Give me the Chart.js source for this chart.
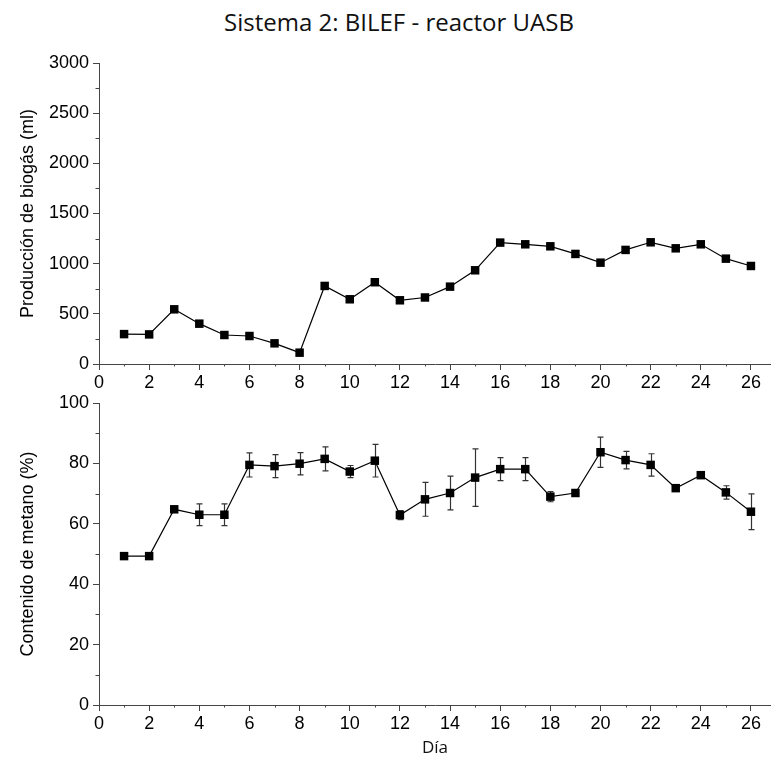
<!DOCTYPE html>
<html>
<head>
<meta charset="utf-8">
<script src="https://cdn.jsdelivr.net/npm/chart.js@4.4.1/dist/chart.umd.min.js"></script>
<style>
  html, body { margin: 0; padding: 0; background: #fff; }
  #wrap { position: relative; width: 771px; height: 771px; overflow: hidden; background: #fff; }
  #title { position: absolute; top: 7px; left: 0; width: 798px; text-align: center;
           font-family: 'Open Sans', sans-serif; font-size: 24px; line-height: 30px; color: #111; }
  canvas { position: absolute; left: 0; }
  #c1 { top: 0; }
  #c2 { top: 385px; }
</style>
</head>
<body>
<div id="wrap">
  <div id="title">Sistema 2: BILEF - reactor UASB</div>
  <canvas id="c1" width="777" height="395"></canvas>
  <canvas id="c2" width="777" height="386"></canvas>
</div>
<script>
// Day of operation
const days = [1, 2, 3, 4, 5, 6, 7, 8, 9, 10, 11, 12, 13, 14, 15, 16, 17, 18, 19, 20, 21, 22, 23, 24, 25, 26];
// Daily biogas production (ml)
const biogas = [298, 295, 545, 402, 289, 279, 206, 113, 778, 645, 815, 635, 663, 771, 934,
                1210, 1193, 1173, 1097, 1010, 1137, 1213, 1153, 1193, 1050, 977];
// Methane content (%) and its standard deviation
const metano = [49.3, 49.3, 64.8, 63.0, 63.0, 79.5, 79.1, 79.9, 81.5, 77.3, 80.9, 62.9, 68.1,
                70.2, 75.3, 78.1, 78.1, 69.0, 70.2, 83.7, 81.1, 79.5, 71.8, 76.1, 70.4, 64.0];
const metanoErr = [0, 0, 0, 3.6, 3.6, 4.0, 3.8, 3.7, 4.0, 2.0, 5.4, 1.5, 5.6,
                   5.6, 9.5, 3.8, 3.8, 1.7, 0, 5.0, 2.9, 3.7, 0, 0, 2.2, 5.9];
// Minor tick positions
const xMinor = [1, 3, 5, 7, 9, 11, 13, 15, 17, 19, 21, 23, 25];
const biogasMinor = [250, 750, 1250, 1750, 2250, 2750];
const metanoMinor = [10, 30, 50, 70, 90];

const AXIS = '#444';
const TICK_FONT = { family: "'Liberation Sans', Arial, sans-serif", size: 18 };
const TITLE_FONT = { family: "'Liberation Sans', Arial, sans-serif", size: 18 };

// Short outward ticks between the labelled ones
const minorTicks = {
  id: 'minorTicks',
  afterDraw(chart, args, opts) {
    const ctx = chart.ctx;
    const xs = chart.scales.x, ys = chart.scales.y;
    ctx.save();
    ctx.strokeStyle = AXIS;
    ctx.lineWidth = 1;
    ctx.beginPath();
    (opts.x || []).forEach(v => {
      const px = Math.round(xs.getPixelForValue(v)) + 0.5;
      ctx.moveTo(px, xs.top);
      ctx.lineTo(px, xs.top + 2.5);
    });
    (opts.y || []).forEach(v => {
      const py = Math.round(ys.getPixelForValue(v)) + 0.5;
      ctx.moveTo(ys.right, py);
      ctx.lineTo(ys.right - 3.5, py);
    });
    ctx.stroke();
    ctx.restore();
  }
};

// Vertical error bars with caps, drawn under the markers
const errorBars = {
  id: 'errorBars',
  beforeDatasetsDraw(chart, args, opts) {
    if (!opts.values) return;
    const ctx = chart.ctx;
    const xs = chart.scales.x, ys = chart.scales.y;
    const ds = chart.data.datasets[0].data;
    ctx.save();
    ctx.strokeStyle = '#333';
    ctx.lineWidth = 1.2;
    ctx.beginPath();
    ds.forEach((p, i) => {
      const e = opts.values[i];
      if (!e) return;
      const px = Math.round(xs.getPixelForValue(p.x)) + 0.5;
      const y1 = ys.getPixelForValue(p.y + e);
      const y2 = ys.getPixelForValue(p.y - e);
      ctx.moveTo(px, y1); ctx.lineTo(px, y2);
      ctx.moveTo(px - 3, y1); ctx.lineTo(px + 3, y1);
      ctx.moveTo(px - 3, y2); ctx.lineTo(px + 3, y2);
    });
    ctx.stroke();
    ctx.restore();
  }
};

const plainNumber = v => String(v);

function xScale(height, title) {
  return {
    type: 'linear', min: 0, max: 26.8,
    border: { display: true, color: AXIS, width: 1 },
    grid: { drawOnChartArea: false, drawTicks: true, tickLength: 6, tickColor: AXIS, tickWidth: 1 },
    ticks: { stepSize: 2, includeBounds: false, autoSkip: false, maxRotation: 0,
             color: '#000', font: TICK_FONT, padding: 2, callback: plainNumber },
    title: title ? { display: true, text: title, color: '#111',
                     font: { family: "'Open Sans', sans-serif", size: 17 },
                     padding: { top: 0, bottom: 13 } } : { display: false },
    afterFit(s) { s.height = height; }
  };
}

function yScale(min, max, step, title) {
  return {
    min: min, max: max,
    border: { display: true, color: AXIS, width: 1 },
    grid: { drawOnChartArea: false, drawTicks: true, tickLength: 6, tickColor: AXIS, tickWidth: 1 },
    ticks: { stepSize: step, color: '#000', font: TICK_FONT, padding: 4, callback: plainNumber },
    title: { display: true, text: title, color: '#000', font: TITLE_FONT, padding: { top: 17, bottom: 0 } },
    afterFit(s) { s.width = 99; }
  };
}

function lineDataset(values) {
  return {
    data: days.map((d, i) => ({ x: d, y: values[i] })),
    borderColor: '#000', borderWidth: 1.2,
    pointStyle: 'rect', pointRadius: 6, pointHoverRadius: 6,
    pointBackgroundColor: '#000', pointBorderColor: '#000', pointBorderWidth: 0,
    tension: 0, clip: false
  };
}

const common = {
  responsive: false, animation: false, events: [],
  plugins: { legend: { display: false }, tooltip: { enabled: false } }
};

new Chart(document.getElementById('c1'), {
  type: 'line',
  data: { datasets: [lineDataset(biogas)] },
  plugins: [minorTicks],
  options: Object.assign({}, common, {
    layout: { padding: { top: 63, right: 0, bottom: 0, left: 0 } },
    plugins: Object.assign({}, common.plugins, { minorTicks: { x: xMinor, y: biogasMinor } }),
    scales: {
      x: xScale(31, null),
      y: yScale(0, 3000, 500, 'Producción de biogás (ml)')
    }
  })
});

new Chart(document.getElementById('c2'), {
  type: 'line',
  data: { datasets: [lineDataset(metano)] },
  plugins: [minorTicks, errorBars],
  options: Object.assign({}, common, {
    layout: { padding: { top: 18, right: 0, bottom: 0, left: 0 } },
    plugins: Object.assign({}, common.plugins, {
      minorTicks: { x: xMinor, y: metanoMinor },
      errorBars: { values: metanoErr }
    }),
    scales: {
      x: xScale(66, 'Día'),
      y: yScale(0, 100, 20, 'Contenido de metano (%)')
    }
  })
});
</script>
</body>
</html>
